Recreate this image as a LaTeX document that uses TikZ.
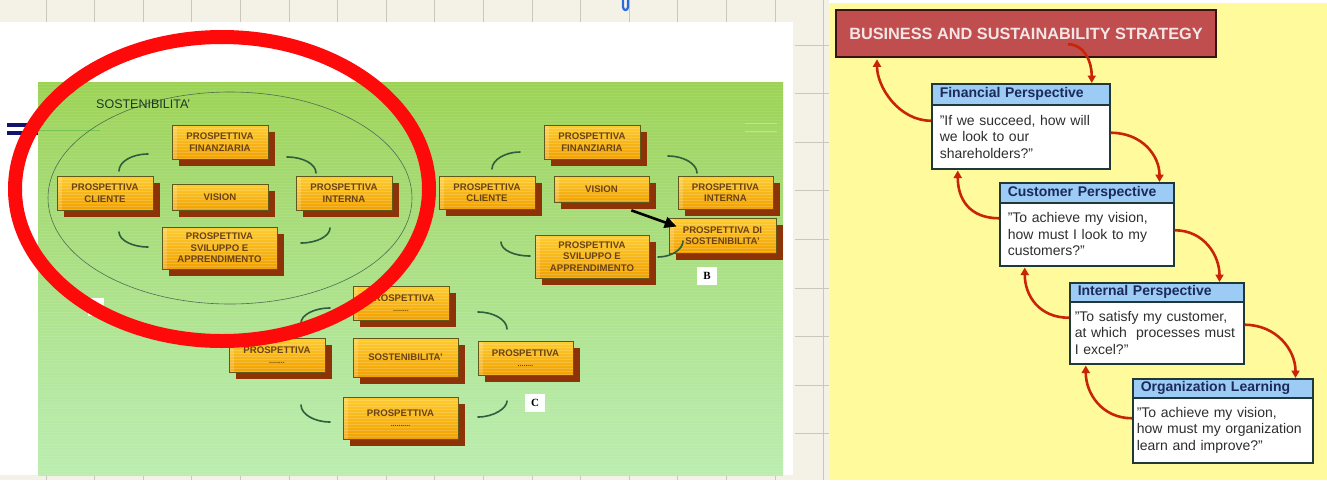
\documentclass[tikz,border=0pt]{standalone}
\usepackage{fontspec}
\setmainfont{Liberation Sans}
\newfontfamily\labelserif{Liberation Serif}
\usetikzlibrary{calc,arrows.meta,shadows}

% palette
\definecolor{gridcream}{HTML}{F4F1E6}
\definecolor{gridline}{HTML}{CBC7BA}
\definecolor{gTop}{HTML}{88C212}
\definecolor{gUp}{HTML}{93CB30}
\definecolor{gMid}{HTML}{A3D86C}
\definecolor{gLow}{HTML}{B5E9A2}
\definecolor{gBot}{HTML}{CAF8CE}
\definecolor{boxTop}{HTML}{FFCC30}
\definecolor{boxBot}{HTML}{F0A000}
\definecolor{boxEdge}{HTML}{5F5A1C}
\definecolor{boxShadow}{HTML}{8E3208}
\definecolor{boxText}{HTML}{6A4214}
\definecolor{arcGreen}{HTML}{2F5E3C}
\definecolor{ovalLine}{HTML}{4E7050}
\definecolor{ringRed}{HTML}{FF0A0A}
\definecolor{paleYellow}{HTML}{FFFA9C}
\definecolor{titleRed}{HTML}{C14E4E}
\definecolor{titleEdge}{HTML}{3A1212}
\definecolor{titleText}{HTML}{F4E6E6}
\definecolor{headBlue}{HTML}{9CCBF6}
\definecolor{frameDark}{HTML}{203838}
\definecolor{navyText}{HTML}{1C2A58}
\definecolor{flowRed}{HTML}{C92308}
\definecolor{markBlue}{HTML}{2A6AE0}
\definecolor{barNavy}{HTML}{14146E}

\pgfdeclareverticalshading{panelgreen}{100bp}{color(0bp)=(gBot); color(35bp)=(gLow); color(65bp)=(gMid); color(90bp)=(gUp); color(100bp)=(gTop)}

\tikzset{
  pbox/.style={draw=boxEdge, line width=0.7pt, top color=boxTop, bottom color=boxBot,
    text=boxText, font=\bfseries\fontsize{9.6}{11.5}\selectfont, align=center, inner sep=0pt,
    drop shadow={shadow xshift=7pt, shadow yshift=-7pt, fill=boxShadow, opacity=1},
    path picture={\fill[white,opacity=.18] (path picture bounding box.north west) rectangle ($(path picture bounding box.south west)+(5,0)$);
      \foreach \k in {3,6,...,45}{\draw[white,opacity=.18,line width=.7pt]
      ($(path picture bounding box.north west)+(0,\k)$) -- ($(path picture bounding box.north east)+(0,\k)$);}}},
  dotfont/.style={},
  arcline/.style={draw=arcGreen, line width=1.6pt, line cap=round},
  tag/.style={fill=white, inner sep=0pt, minimum width=20pt, minimum height=18pt,
    font=\labelserif\bfseries\fontsize{11}{12}\selectfont},
  hdr/.style={draw=frameDark, line width=1.5pt, fill=headBlue, text=navyText,
    font=\bfseries\fontsize{14}{16}\selectfont, align=left, inner xsep=8pt, inner ysep=0pt, anchor=north west},
  body/.style={draw=frameDark, line width=1.5pt, fill=white, text=black!82,
    font=\fontsize{14}{16.5}\selectfont, align=left, inner xsep=8pt, inner ysep=0pt, anchor=north west},
  flow/.style={draw=flowRed, line width=2.6pt, -{Triangle[length=7.5pt,width=8pt]}}
}
\newcommand{\placeholderdots}[1]{{\fontsize{7}{7}\selectfont #1}}

\begin{document}
\begin{tikzpicture}[x=1pt,y=-1pt]
\useasboundingbox (0,0) rectangle (1327,480);

% spreadsheet canvas behind everything
\fill[gridcream] (0,0) rectangle (1327,480);
\foreach \i in {0,...,15}{
  \draw[gridline, line width=.8pt] ({46+48.6*\i},0) -- ({46+48.6*\i},22);
  \draw[gridline, line width=.8pt] ({46+48.6*\i},475) -- ({46+48.6*\i},480);
}
\foreach \j in {0,...,8}
  \draw[gridline, line width=.8pt] (795,{45+48.6*\j}) -- (829,{45+48.6*\j});
\draw[gridline, line width=.8pt] (823.6,0) -- (823.6,480);
\fill[white] (0,22) rectangle (793,475);

% small blue mark in the header strip
\draw[markBlue, line width=2.2pt, line cap=round] (623,0) -- (623,7) .. controls (623,11) and (628,11) .. (628,7) -- (628,0);

% green slide panel with fine horizontal banding
\shade[shading=panelgreen] (38,82) rectangle (783,475);
\foreach \s in {84,87,...,474}
  \draw[white, opacity=.08, line width=1pt] (38,\s) -- (783,\s);
\fill[barNavy] (7,123) rectangle (38,126.5);
\fill[barNavy] (7,131) rectangle (38,135);
\draw[gray!60!green, opacity=.5, line width=1pt] (38,130) -- (100,130);
\draw[white!70!green, opacity=.6, line width=1pt] (745,123) -- (777,123);
\draw[white!70!green, opacity=.6, line width=1pt] (745,131) -- (777,131);

% ---- group A: perspectives inside the sustainability oval
\draw[ovalLine, line width=.6pt] (230,198) ellipse [x radius=182, y radius=106];
\node[anchor=west, text=black!40!arcGreen, font=\fontsize{12.5}{14}\selectfont, inner sep=0pt] (susLabel) at (96,104) {SOSTENIBILITA'};

\node[pbox, minimum width=96pt, minimum height=34pt] (aFin) at (220,142) {PROSPETTIVA\\FINANZIARIA};
\node[pbox, minimum width=96pt, minimum height=34pt] (aCli) at (105,193) {PROSPETTIVA\\CLIENTE};
\node[pbox, minimum width=96pt, minimum height=26pt] (aVis) at (220,197) {VISION};
\node[pbox, minimum width=96pt, minimum height=34pt] (aInt) at (344,193) {PROSPETTIVA\\INTERNA};
\node[pbox, minimum width=115pt, minimum height=42pt] (aSvi) at (219.5,248) {PROSPETTIVA\\SVILUPPO E\\APPRENDIMENTO};

\draw[arcline] (119,171) .. controls (119,161.6) and (132,154) .. (148,154);
\draw[arcline] (287,157) .. controls (303,157) and (316,164) .. (316,173);
\draw[arcline] (119,232) .. controls (119,240) and (132,247) .. (148,247);
\draw[arcline] (301,243) .. controls (317,243) and (330,236) .. (330,228);

% ---- group B
\node[pbox, minimum width=96pt, minimum height=34pt] (bFin) at (592,142) {PROSPETTIVA\\FINANZIARIA};
\node[pbox, minimum width=96pt, minimum height=33pt] (bCli) at (487,192.5) {PROSPETTIVA\\CLIENTE};
\node[pbox, minimum width=95pt, minimum height=26pt] (bVis) at (601.5,189) {VISION};
\node[pbox, minimum width=95pt, minimum height=33pt] (bInt) at (725.5,192.5) {PROSPETTIVA\\INTERNA};
\node[pbox, minimum width=114pt, minimum height=43pt] (bSvi) at (592,256.5) {PROSPETTIVA\\SVILUPPO E\\APPRENDIMENTO};
\begin{scope}
  \clip (38,82) rectangle (783,475);
  \node[pbox, minimum width=107pt, minimum height=35pt] (bSos) at (722.5,235.5) {PROSPETTIVA DI\\SOSTENIBILITA'};
\end{scope}

\draw[arcline] (492,169) .. controls (492,160) and (505,152) .. (520,152);
\draw[arcline] (668,156) .. controls (684,156) and (697,164) .. (697,173);
\draw[arcline] (501,242) .. controls (501,250) and (514,256) .. (530,256);
\draw[arcline] (658,257) .. controls (672,257) and (683,249) .. (683,241);

\draw[line width=2.6pt, -{Triangle[length=12pt,width=11pt]}] ($(bVis.south east)+(-18,8)$) -- ($(bSos.west)+(8,-9)$);
\node[tag] (tagB) at (707,275.5) {B};

% ---- group C
\node[pbox, minimum width=96pt, minimum height=34pt] (cTop) at (401,303) {PROSPETTIVA\\[-2pt]\placeholderdots{........}};
\node[pbox, minimum width=96pt, minimum height=34pt] (cLeft) at (277,355) {PROSPETTIVA\\[-2pt]\placeholderdots{........}};
\node[pbox, minimum width=105pt, minimum height=39pt] (cSos) at (405.5,357.5) {SOSTENIBILITA'};
\node[pbox, minimum width=95pt, minimum height=34pt] (cRight) at (525.5,358) {PROSPETTIVA\\[-2pt]\placeholderdots{........}};
\node[pbox, minimum width=115pt, minimum height=42pt] (cBot) at (400.5,418) {PROSPETTIVA\\[-2pt]\placeholderdots{..........}};

\draw[arcline] (301,323) .. controls (301,315) and (314,308) .. (330,308);
\draw[arcline] (478,312) .. controls (494,312) and (507,320) .. (507,329);
\draw[arcline] (301,405) .. controls (301,414) and (314,422) .. (330,422);
\draw[arcline] (478,417) .. controls (494,417) and (507,408) .. (507,401);
\node[tag] (tagC) at (535,403) {C};

% partly hidden white tag and the red highlight ring
\fill[white] (88,298) rectangle (104,316);
\draw[ringRed, line width=14pt] (222,189) ellipse [x radius=207, y radius=152];

% ---- right panel: balanced scorecard cascade
\fill[white] (829,0) rectangle (1327,3);
\fill[paleYellow] (829,3) rectangle (1327,480);

\node[draw=titleEdge, line width=2.5pt, fill=titleRed, text=titleText,
      font=\bfseries\fontsize{16.3}{18}\selectfont, minimum width=380pt, minimum height=47pt, inner sep=0pt]
      (title) at (1026,33.5) {BUSINESS AND SUSTAINABILITY STRATEGY};

\node[body, text width=162pt, minimum height=64pt] (finB) at (931,104) {"If we succeed, how will\\we look to our\\shareholders?"};
\node[hdr, text width=162pt, minimum height=21pt] (finH) at (931,83) {Financial Perspective};

\node[body, text width=158pt, minimum height=63pt] (custB) at (999,202) {"To achieve my vision,\\how must I look to my\\customers?"};
\node[hdr, text width=158pt, minimum height=20pt] (custH) at (999,182) {Customer Perspective};

\node[body, inner xsep=5pt, text width=164pt, minimum height=62pt] (intB) at (1069,301) {"To satisfy my customer,\\at which\ \ processes must\\I excel?"};
\node[hdr, text width=158pt, minimum height=19pt] (intH) at (1069,282) {Internal Perspective};

\node[body, inner xsep=4pt, text width=172pt, minimum height=65pt] (orgB) at (1132,397) {"To achieve my vision,\\how must my organization\\learn and improve?"};
\node[hdr, text width=164pt, minimum height=19pt] (orgH) at (1132,378) {Organization Learning};

\draw[flow] ($(title.south)+(42,-14)$) .. controls +(16,0) and +(0,-22) .. ($(finH.north)+(71,0)$);
\draw[flow] ($(finB.west)+(0,-16)$) .. controls +(-32,0) and +(0,28) .. ($(title.south)+(-149,1)$);
\draw[flow] ($(finB.east)+(0,-4)$) .. controls +(32,0) and +(0,-26) .. ($(custH.north east)+(-15,0)$);
\draw[flow] ($(custB.west)+(0,-16)$) .. controls +(-30,0) and +(0,28) .. ($(finB.south)+(-63,1)$);
\draw[flow] ($(custB.east)+(0,-4)$) .. controls +(30,0) and +(0,-26) .. ($(intH.north east)+(-25,0)$);
\draw[flow] ($(intB.west)+(0,-15)$) .. controls +(-30,0) and +(0,28) .. ($(custB.south)+(-62,1)$);
\draw[flow] ($(intB.east)+(0,-8)$) .. controls +(32,0) and +(0,-28) .. ($(orgH.north east)+(-18,0)$);
\draw[flow] ($(orgB.west)+(0,-12)$) .. controls +(-30,0) and +(0,28) .. ($(intB.south)+(-71,1)$);
\end{tikzpicture}
\end{document}
